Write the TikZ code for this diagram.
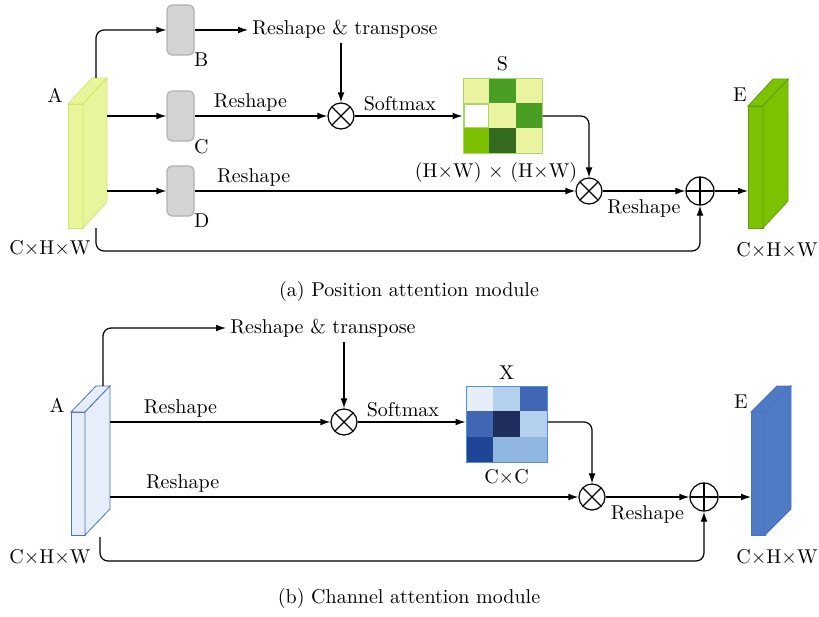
\documentclass[tikz,border=0pt]{standalone}
\usepackage{amsmath}
\usepackage{tikz}
\usetikzlibrary{positioning}
\usetikzlibrary{calc}
\usetikzlibrary{arrows.meta}

\definecolor{slabyel}{HTML}{E9F59B}
\definecolor{slabyelline}{HTML}{D2E66E}
\definecolor{convgray}{HTML}{D4D4D4}
\definecolor{convline}{HTML}{B0B0B0}
\definecolor{sLight}{HTML}{EAF4A0}
\definecolor{sMid}{HTML}{4B9E24}
\definecolor{sBright}{HTML}{7CC000}
\definecolor{sDark}{HTML}{346B1F}
\definecolor{sEdge}{HTML}{A9D46E}
\definecolor{slabgreen}{HTML}{7CC200}
\definecolor{slabgreenline}{HTML}{5EA00E}
\definecolor{slabpale}{HTML}{E6EEF9}
\definecolor{slabblueline}{HTML}{4A72C4}
\definecolor{slabblue}{HTML}{4F7BC4}
\definecolor{xPale}{HTML}{E6EEF9}
\definecolor{xLight}{HTML}{B3D0EC}
\definecolor{xMid}{HTML}{3F67B4}
\definecolor{xNavy}{HTML}{1F2D5C}
\definecolor{xDeep}{HTML}{1F4597}
\definecolor{xSoft}{HTML}{90B7E0}
\definecolor{xEdge}{HTML}{5A8ED8}

\tikzset{
  lab/.style={font=\normalsize, inner sep=2pt},
  slab/.style={rectangle, inner sep=0pt, outer sep=0pt, minimum width=7.5pt, minimum height=62pt},
  conv/.style={rectangle, rounded corners=2.5pt, fill=convgray, draw=convline, line width=0.6pt,
    minimum width=13.5pt, minimum height=25pt, inner sep=0pt},
  mulop/.style={circle, draw, line width=0.6pt, minimum size=13pt, inner sep=0pt,
    path picture={\draw[line width=0.6pt] (path picture bounding box.north west) -- (path picture bounding box.south east)
      (path picture bounding box.north east) -- (path picture bounding box.south west);}},
  addop/.style={circle, draw, line width=0.6pt, minimum size=14pt, inner sep=0pt,
    path picture={\draw[line width=0.6pt] (path picture bounding box.north) -- (path picture bounding box.south)
      (path picture bounding box.west) -- (path picture bounding box.east);}},
  conn/.style={line width=0.6pt},
}

\begin{document}
\begin{tikzpicture}[x=0.5pt, y=-0.5pt, >={Latex[length=5pt,width=3.4pt]}]
\useasboundingbox (0,0) rectangle (819,616);

% (a) position attention
\node[slab, fill=slabyel, draw=slabyelline] (A1) at (75.5,166) {};
\filldraw[fill=slabyel, draw=slabyelline] (A1.north west) -- ++(24,-26) -- ++(15,0) -- (A1.north east) -- cycle;
\filldraw[fill=slabyel, draw=slabyelline] (A1.north east) -- ++(24,-26) -- ++(0,124) -- (A1.south east) -- cycle;
\node[lab] at (55,95) {A};
\node[lab] at (50,248) {C$\times$H$\times$W};
\coordinate (a1top) at (96,78);
\coordinate (a1c) at (107,116);
\coordinate (a1d) at (107,191);
\coordinate (a1bot) at (96,228);

\node[conv] (B) at (180.5,30) {};
\node[conv] (C) at (180.5,116) {};
\node[conv] (D) at (180.5,191) {};
\node[lab, anchor=north west, inner sep=0pt] at ($(B.south east)+(-1,-3)$) {B};
\node[lab, anchor=north west, inner sep=0pt] at ($(C.south east)+(-1,-3)$) {C};
\node[lab, anchor=north west, inner sep=0pt] at ($(D.south east)+(-1,-3)$) {D};

\node[lab] (rtA) at (345,29) {Reshape \& transpose};
\node[mulop] (m1) at (341,116) {};
\node[mulop] (m2) at (589,191) {};
\node[addop] (p1) at (700,191) {};

% attention map S
\fill[sLight] (463,78) rectangle ++(26.3,25);
\fill[sMid] (489.3,78) rectangle ++(26.3,25);
\fill[sLight] (515.6,78) rectangle ++(26.4,25);
\filldraw[fill=white, draw=sEdge, line width=0.8pt] (463.8,103.8) rectangle ++(24.8,23.5);
\fill[sLight] (489.3,103) rectangle ++(26.3,25);
\fill[sMid] (515.6,103) rectangle ++(26.4,25);
\fill[sBright] (463,128) rectangle ++(26.3,25);
\fill[sDark] (489.3,128) rectangle ++(26.3,25);
\fill[sLight] (515.6,128) rectangle ++(26.4,25);
\node[draw=sEdge, line width=0.5pt, minimum width=39.5pt, minimum height=37.5pt, inner sep=0pt] (S) at (502.5,115.5) {};
\node[lab, above=1pt of S] {S};
\node[lab] at (496,172) {(H$\times$W) $\times$ (H$\times$W)};

\node[slab, fill=slabgreen, draw=slabgreenline, minimum height=61pt] (E1) at (755.5,167) {};
\filldraw[fill=slabgreen, draw=slabgreenline] (E1.north west) -- ++(25,-27) -- ++(15,0) -- (E1.north east) -- cycle;
\filldraw[fill=slabgreen, draw=slabgreenline] (E1.north east) -- ++(25,-27) -- ++(0,122) -- (E1.south east) -- cycle;
\node[lab] at (740,95) {E};
\node[lab] at (777,250) {C$\times$H$\times$W};

\draw[conn, ->, rounded corners=4pt] (a1top) |- (B.west);
\draw[conn, ->] (B.east) -- (B.east -| rtA.west);
\draw[conn, ->] (a1c) -- (C.west);
\draw[conn, ->] (a1d) -- (D.west);
\draw[conn, ->] (C.east) -- node[lab, above, pos=0.42] {Reshape} (m1.west);
\draw[conn, ->] (m1 |- rtA.south) -- (m1.north);
\draw[conn, ->] (m1.east) -- node[lab, above, pos=0.42] {Softmax} (m1.east -| S.west);
\draw[conn, ->, rounded corners=4pt] (S.east |- m1) -| (m2.north);
\draw[conn, ->] (D.east) -- node[lab, above, pos=0.155] {Reshape} (m2.west);
\draw[conn, ->] (m2.east) -- node[lab, below=2pt] {Reshape} (p1.west);
\draw[conn, ->, rounded corners=4pt] (a1bot) -- ++(0,23) -| (p1.south);
\draw[conn, ->] (p1.east) -- (p1.east -| E1.west);

\node[lab] at (409,291) {(a) Position attention module};

% (b) channel attention
\node[slab, fill=slabpale, draw=slabblueline, minimum width=7pt, minimum height=61.5pt] (A2) at (78,473.5) {};
\filldraw[fill=slabpale, draw=slabblueline] (A2.north west) -- ++(25,-26) -- ++(14,0) -- (A2.north east) -- cycle;
\filldraw[fill=slabpale, draw=slabblueline] (A2.north east) -- ++(25,-26) -- ++(0,123) -- (A2.south east) -- cycle;
\node[lab] at (57,405) {A};
\node[lab] at (50,557) {C$\times$H$\times$W};
\coordinate (a2top) at (103,386);
\coordinate (a2r) at (110,422);
\coordinate (a2s) at (110,497);
\coordinate (a2bot) at (100,537);

\node[lab] (rtB) at (323,328) {Reshape \& transpose};
\node[mulop] (m3) at (344,422) {};
\node[mulop] (m4) at (592,497) {};
\node[addop] (p2) at (704,497) {};

% attention map X
\fill[xPale] (466,386) rectangle ++(27,25.3);
\fill[xLight] (493,386) rectangle ++(27,25.3);
\fill[xMid] (520,386) rectangle ++(27,25.3);
\fill[xMid] (466,411.3) rectangle ++(27,25.3);
\fill[xNavy] (493,411.3) rectangle ++(27,25.3);
\fill[xLight] (520,411.3) rectangle ++(27,25.3);
\fill[xDeep] (466,436.6) rectangle ++(27,25.4);
\fill[xSoft] (493,436.6) rectangle ++(27,25.4);
\fill[xSoft] (520,436.6) rectangle ++(27,25.4);
\node[draw=xEdge, line width=0.5pt, minimum width=40.5pt, minimum height=38pt, inner sep=0pt] (X) at (506.5,424) {};
\node[lab, above=1pt of X] {X};
\node[lab, below=1pt of X] {C$\times$C};

\node[slab, fill=slabblue, draw=slabblueline, minimum width=7pt, minimum height=61.5pt] (E2) at (758,473.5) {};
\filldraw[fill=slabblue, draw=slabblueline] (E2.north west) -- ++(26,-26) -- ++(14,0) -- (E2.north east) -- cycle;
\filldraw[fill=slabblue, draw=slabblueline] (E2.north east) -- ++(26,-26) -- ++(0,123) -- (E2.south east) -- cycle;
\node[lab] at (741,402) {E};
\node[lab] at (777,557) {C$\times$H$\times$W};

\draw[conn, ->, rounded corners=4pt] (a2top) |- (rtB.west);
\draw[conn, ->] (a2r) -- node[lab, above, pos=0.32] {Reshape} (m3.west);
\draw[conn, ->] (m3 |- rtB.south) -- (m3.north);
\draw[conn, ->] (m3.east) -- node[lab, above, pos=0.42] {Softmax} (m3.east -| X.west);
\draw[conn, ->, rounded corners=4pt] (X.east |- m3) -| (m4.north);
\draw[conn, ->] (a2s) -- node[lab, above, pos=0.155] {Reshape} (m4.west);
\draw[conn, ->] (m4.east) -- node[lab, below=2pt] {Reshape} (p2.west);
\draw[conn, ->, rounded corners=4pt] (a2bot) -- ++(0,24) -| (p2.south);
\draw[conn, ->] (p2.east) -- (p2.east -| E2.west);

\node[lab] at (409,598) {(b) Channel attention module};
\end{tikzpicture}
\end{document}
